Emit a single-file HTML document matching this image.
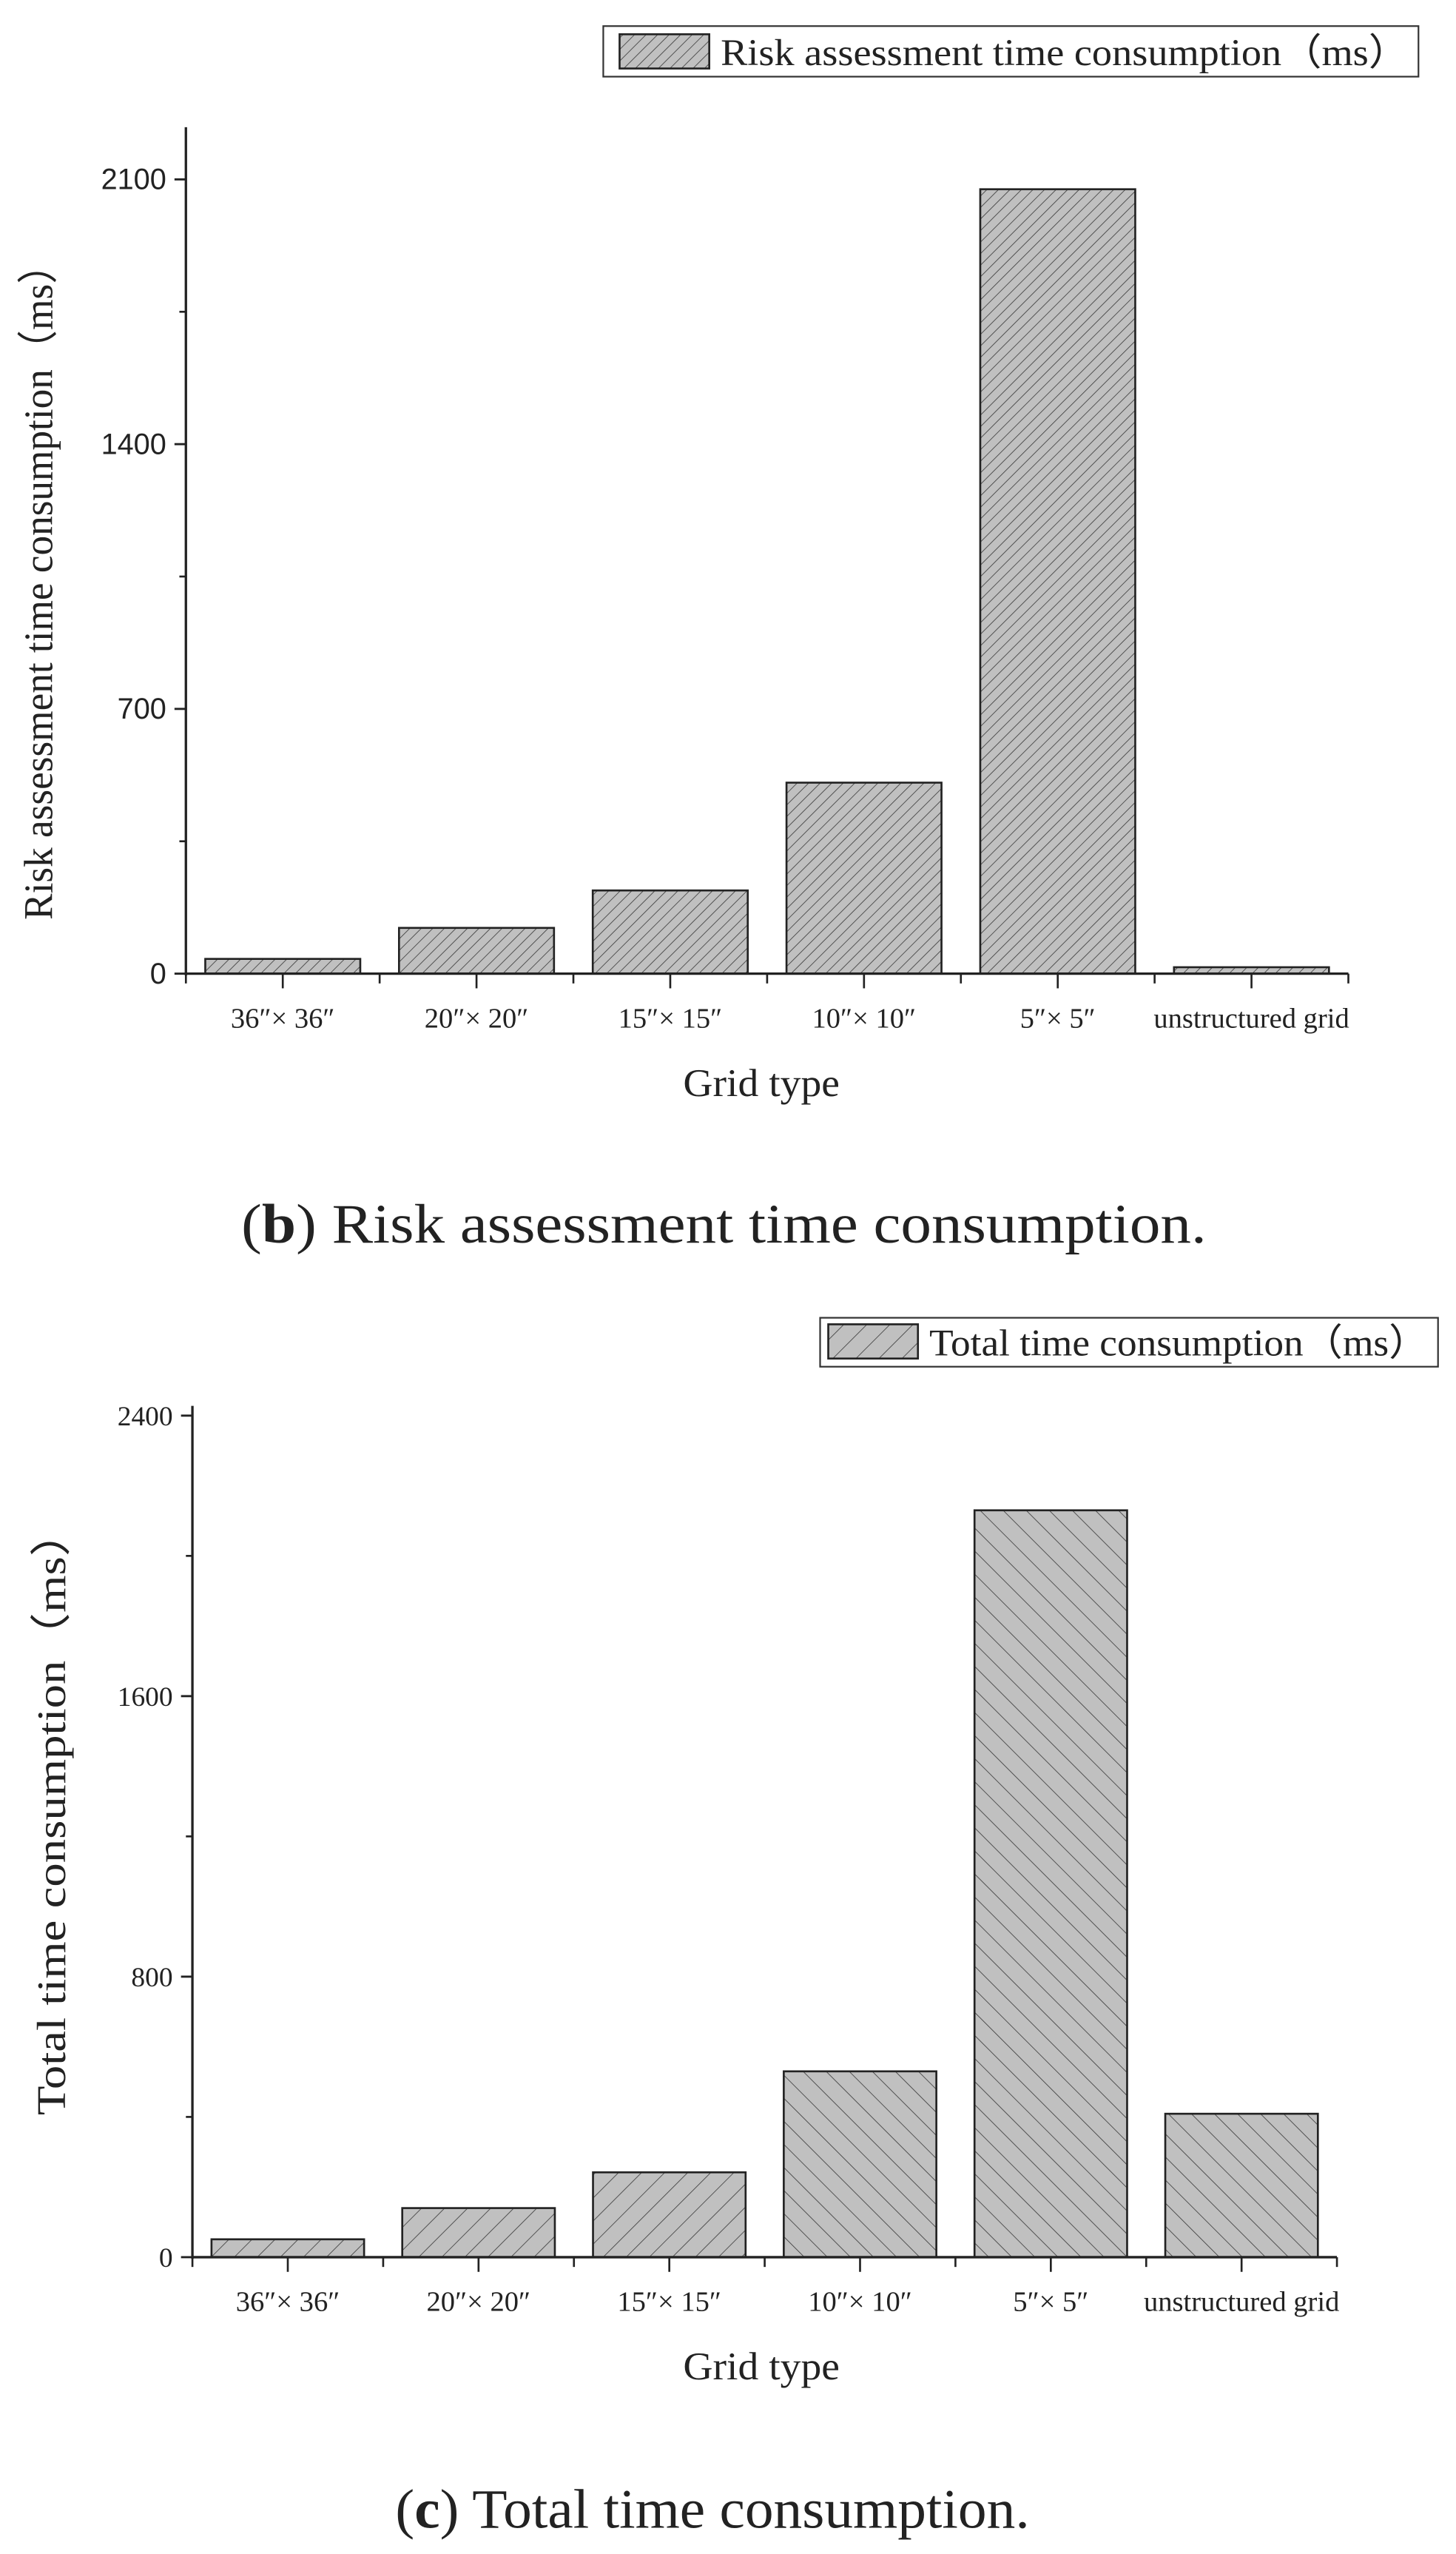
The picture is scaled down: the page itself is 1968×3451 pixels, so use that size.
<!DOCTYPE html>
<html><head><meta charset="utf-8"><style>
html,body{margin:0;padding:0;background:#fff;}
svg{display:block;}
text{font-family:"Liberation Serif",serif;fill:#222;}
</style></head><body>
<svg id="fig" width="1968" height="3451" viewBox="0 0 893 1566" xmlns="http://www.w3.org/2000/svg">
<defs>
<pattern id="hb" patternUnits="userSpaceOnUse" width="5" height="5" patternTransform="rotate(45)"><rect width="5" height="5" fill="#c0c0c0"/><line x1="0" y1="0" x2="0" y2="5" stroke="#444" stroke-width="0.8"/></pattern>
<pattern id="hf" patternUnits="userSpaceOnUse" width="10" height="10" patternTransform="rotate(45)"><rect width="10" height="10" fill="#c0c0c0"/><line x1="0" y1="0" x2="0" y2="10" stroke="#444" stroke-width="0.8"/></pattern>
<pattern id="hr" patternUnits="userSpaceOnUse" width="10" height="10" patternTransform="rotate(-45)"><rect width="10" height="10" fill="#c0c0c0"/><line x1="0" y1="0" x2="0" y2="10" stroke="#444" stroke-width="0.8"/></pattern>
</defs>
<g id="chartB"></g>
<g id="chartC"></g>
</svg>
<script>
const categories = ["36\u2033\u00d7 36\u2033","20\u2033\u00d7 20\u2033","15\u2033\u00d7 15\u2033","10\u2033\u00d7 10\u2033","5\u2033\u00d7 5\u2033","unstructured grid"];
const riskValues = [39, 121, 220, 505, 2074, 17];
const riskTicks = [0, 700, 1400, 2100];
const totalValues = [51, 140, 242, 530, 2130, 409];
const totalTicks = [0, 800, 1600, 2400];
const totalPatterns = ["hf","hf","hf","hr","hr","hr"];

const NS="http://www.w3.org/2000/svg";
function mk(parent,tag,attrs,txt){const e=document.createElementNS(NS,tag);for(const k in attrs)e.setAttribute(k,attrs[k]);if(txt!==undefined)e.textContent=txt;parent.appendChild(e);return e;}

function drawChart(g,cfg){
  const x0=cfg.x0,x1=cfg.x1,yb=cfg.yb,ytop=cfg.ytop,ymax=cfg.ymax,yTopAxis=cfg.yAxisTop;
  const ys=v=>yb-(v/ymax)*(yb-ytop);
  const cw=(x1-x0)/categories.length;
  const xc=i=>x0+cw*(i+0.5);
  cfg.values.forEach((v,i)=>{
    const r=mk(g,"rect",{x:xc(i)-cw*0.4,y:ys(v),width:cw*0.8,height:yb-ys(v),fill:"url(#"+cfg.pat[i]+")",stroke:"#222","stroke-width":1.2});
    
    
  });
  const ya=mk(g,"line",{x1:x0,y1:yTopAxis,x2:x0,y2:yb+1,stroke:"#222","stroke-width":1.5});
  
  
  const xa=mk(g,"line",{x1:x0,y1:yb,x2:x1,y2:yb,stroke:"#222","stroke-width":1.5});
  
  
  const step=cfg.ticks[1]-cfg.ticks[0];
  cfg.ticks.forEach((t,i)=>{
    mk(g,"line",{x1:x0-7,y1:ys(t),x2:x0,y2:ys(t),stroke:"#222","stroke-width":1.3});
    if(i<cfg.ticks.length-1) mk(g,"line",{x1:x0-4,y1:ys(t+step/2),x2:x0,y2:ys(t+step/2),stroke:"#222","stroke-width":1.2});
    const tl=mk(g,"text",{x:x0-12,y:ys(t)+6,"text-anchor":"end","font-size":cfg.tickSize,style:cfg.tickFont},t);
    
    
  });
  for(let i=0;i<=categories.length;i++){mk(g,"line",{x1:x0+cw*i,y1:yb,x2:x0+cw*i,y2:yb+6,stroke:"#222","stroke-width":1.2});}
  categories.forEach((c,i)=>{
    mk(g,"line",{x1:xc(i),y1:yb,x2:xc(i),y2:yb+9,stroke:"#222","stroke-width":1.2});
    const tl=mk(g,"text",{x:xc(i),y:yb+33,"text-anchor":"middle","font-size":17.5},c);
    
    
  });
}

const gB=document.getElementById("chartB");
drawChart(gB,{x0:114,x1:827,yb:597,ytop:110,ymax:2100,yAxisTop:78,values:riskValues,ticks:riskTicks,pat:riskValues.map(()=> "hb"),tickSize:18,tickFont:'font-family:"Liberation Sans",sans-serif'});
const gC=document.getElementById("chartC");
drawChart(gC,{x0:118,x1:820,yb:1384,ytop:868,ymax:2400,yAxisTop:862,values:totalValues,ticks:totalTicks,pat:totalPatterns,tickSize:17,tickFont:''});
</script>
<script>
(function(){
const svg=document.getElementById("fig");
function mk(tag,attrs,txt,name){const e=document.createElementNS("http://www.w3.org/2000/svg",tag);for(const k in attrs)e.setAttribute(k,attrs[k]);if(txt!==undefined)e.textContent=txt;svg.appendChild(e);if(name){}return e;}
const adj="spacingAndGlyphs";
mk("rect",{x:370,y:16,width:500,height:31,fill:"#fff",stroke:"#333","stroke-width":1},undefined,"legend-box-b");
mk("rect",{x:380,y:21,width:55,height:21,fill:"url(#hb)",stroke:"#222","stroke-width":1.2},undefined,"legend-swatch-b");
mk("text",{x:442,y:40,"font-size":23,textLength:422,lengthAdjust:adj},"Risk assessment time consumption\uff08ms\uff09","legend-entry-b");
mk("text",{x:0,y:0,"font-size":25,"text-anchor":"middle",textLength:414,lengthAdjust:adj,transform:"translate(32,357) rotate(-90)"},"Risk assessment time consumption\uff08ms\uff09","y-axis-title-b");
mk("text",{x:467,y:672,"font-size":24,"text-anchor":"middle",textLength:96,lengthAdjust:adj},"Grid type","x-axis-title-b");
const cb=mk("text",{x:444,y:762,"font-size":34,"text-anchor":"middle",textLength:592,lengthAdjust:adj},undefined,"caption-b");
cb.innerHTML='(<tspan font-weight="bold">b</tspan>) Risk assessment time consumption.';
mk("rect",{x:503,y:808,width:379,height:30,fill:"#fff",stroke:"#333","stroke-width":1},undefined,"legend-box-c");
mk("rect",{x:508,y:812,width:55,height:21,fill:"url(#hf)",stroke:"#222","stroke-width":1.2},undefined,"legend-swatch-c");
mk("text",{x:570,y:831,"font-size":23,textLength:306,lengthAdjust:adj},"Total time consumption\uff08ms\uff09","legend-entry-c");
mk("text",{x:0,y:0,"font-size":25,"text-anchor":"middle",textLength:372,lengthAdjust:adj,transform:"translate(40,1111) rotate(-90)"},"Total time consumption\uff08ms\uff09","y-axis-title-c");
mk("text",{x:467,y:1459,"font-size":24,"text-anchor":"middle",textLength:96,lengthAdjust:adj},"Grid type","x-axis-title-c");
const cc=mk("text",{x:437,y:1550,"font-size":34,"text-anchor":"middle",textLength:389,lengthAdjust:adj},undefined,"caption-c");
cc.innerHTML='(<tspan font-weight="bold">c</tspan>) Total time consumption.';
})();
</script>
</body></html>
